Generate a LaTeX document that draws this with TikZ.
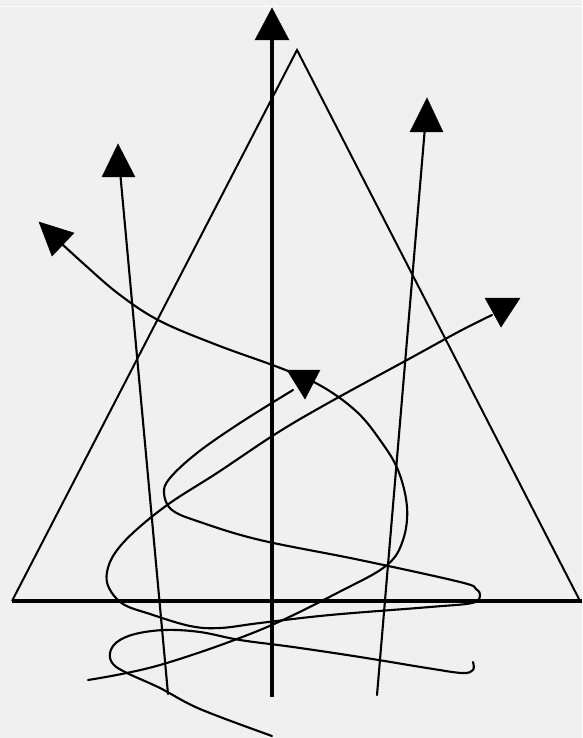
\documentclass[tikz,border=0pt]{standalone}
\usepackage{tikz}
\usetikzlibrary{calc}
\definecolor{bg}{HTML}{F0F0F0}

\begin{document}
\begin{tikzpicture}[x=0.03cm,y=-0.03cm,
	axis/.style={line width=2.8pt},
	wire/.style={line width=1.8pt, line join=round, line cap=round},
	tip/.style={fill=black, draw=black, line width=0.4pt, line join=miter}]
			\fill[bg] (0,0) rectangle (582,738);
			\useasboundingbox (0,0) rectangle (582,738);
			\draw[white, line width=0.8pt] (0,6.5) -- (582,6.5);
			\coordinate (apex) at (297,50);
			\coordinate (base l) at (12,601);
			\coordinate (base r) at (580,601);
			\coordinate (x l) at (12,601);
			\coordinate (x r) at (582,601);
			\coordinate (y b) at (272,697);
			\coordinate (y t) at (272,30);
			\coordinate (a foot) at (168,694);
			\coordinate (a head) at (119,160);
			\coordinate (b foot) at (377,695);
			\coordinate (b head) at (426,115);
			\draw[line width=1.7pt, line join=miter] (base l) -- (apex) -- (base r);
			\draw[axis] (x l) -- (x r);
			\draw[axis] (y b) -- (y t);
			\draw[wire] (a foot) -- (a head);
			\draw[wire] (b foot) -- (b head);
			\draw[wire] plot[smooth, tension=0.6] coordinates {(88,680) (160,665) (260,630) (343,590) (387,565) (403,540) (407,507) (398,470) (380,440) (357,412) (323,387) (283,369) (217,345) (160,321) (120,295) (85,265) (48,231)};
			\draw[wire] plot[smooth, tension=0.6] coordinates {(293,390) (240,423) (197,453) (170,478) (164,493) (172,510) (200,522) (260,540) (360,560) (460,582) (476,589) (480,596) (472,603) (430,607) (330,615) (260,623) (220,628) (190,626) (150,614) (123,604) (109,588) (107,572) (115,553) (135,531) (170,503) (217,473) (277,433) (330,402) (407,360) (460,331) (492,315)};
			\draw[wire] plot[smooth, tension=0.6] coordinates {(473,662) (473,670) (462,673) (427,668) (360,657) (293,647) (240,640) (200,632) (165,630) (135,634) (117,642) (110,653) (113,664) (127,673) (160,688) (200,709) (272,736)};
			\filldraw[tip] (272,8) -- (255,40) -- (289,40) -- cycle;
			\filldraw[tip] (118,144) -- (102,177) -- (135,177) -- cycle;
			\filldraw[tip] (427,98) -- (410,132) -- (443,132) -- cycle;
			\filldraw[tip] (39,222) -- (74,233) -- (52,256) -- cycle;
			\filldraw[tip] (287,370) -- (320,370) -- (305,399) -- cycle;
			\filldraw[tip] (485,298) -- (520,298) -- (501,327) -- cycle;
		\end{tikzpicture}
\end{document}
